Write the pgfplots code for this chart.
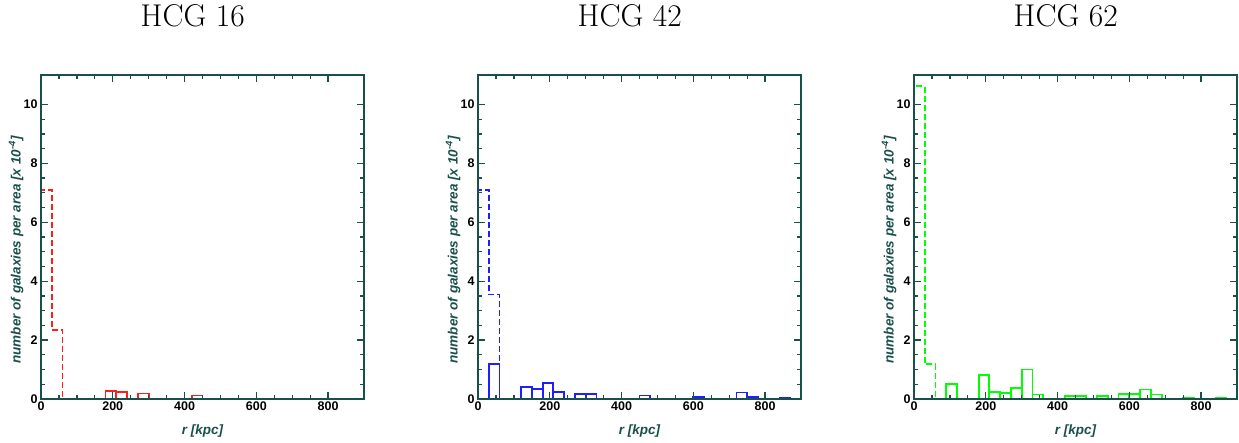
\documentclass[border=0pt]{standalone}
\usepackage{fontspec}
\setsansfont{Liberation Sans}
\usepackage{pgfplots}
\pgfplotsset{compat=1.18}
\definecolor{framec}{RGB}{25,80,75}
\definecolor{hgreen}{RGB}{0,255,0}
\definecolor{hred}{RGB}{255,30,30}
\definecolor{hblue}{RGB}{30,30,255}
\pgfplotsset{hcg/.style={
  scale only axis, width=323pt, height=324pt,
  xmin=0, xmax=900, ymin=0, ymax=11,
  xtick={0,200,400,600,800}, ytick={0,2,4,6,8,10},
  minor x tick num=3, minor y tick num=3,
  tick align=inside, major tick length=7pt, minor tick length=4pt,
  axis on top,
  axis line style={draw=framec, line width=1.6pt},
  every tick/.append style={draw=framec, line width=1.3pt},
  /pgf/number format/assume math mode=true,
  ticklabel style={font=\fontsize{12.5}{14}\selectfont\sffamily\bfseries, text=black},
  xticklabel style={yshift=1pt},
  xlabel={r [kpc]}, ylabel={number of galaxies per area [x 10\textsuperscript{-4}]},
  label style={font=\fontsize{13.5}{15}\selectfont\sffamily\bfseries\itshape, text=framec},
  xlabel style={at={(axis description cs:0.5,0)}, anchor=center, yshift=-32pt},
  ylabel style={at={(axis description cs:-0.077,0.46)}, anchor=center},
  title style={font=\fontsize{31.5}{36}\selectfont\rmfamily, at={(axis description cs:0.47,1)}, anchor=base, yshift=42pt},
  hist/.style={line width=1.8pt},
}}
\begin{document}
\begin{tikzpicture}
\begin{axis}[hcg, title={HCG 16}, at={(0pt,0pt)}]
\addplot[const plot mark left, draw=hred, hist, dash pattern=on 6pt off 3pt] coordinates {(0,0)(0,7.1)(30,2.35)(60,0)};
\addplot[ybar interval, draw=hred, fill=none, hist] coordinates {(180,0.27)(210,0.23)(240,0)(270,0.19)(300,0)(330,0)(360,0)(390,0)(420,0.12)(450,0)};
\end{axis}
\begin{axis}[hcg, title={HCG 42}, at={(437pt,0pt)}]
\addplot[const plot mark left, draw=hblue, hist, dash pattern=on 6pt off 3pt] coordinates {(0,0)(0,7.1)(30,3.55)(60,0)};
\addplot[ybar interval, draw=hblue, fill=none, hist] coordinates {(30,1.2)(60,0)(90,0)(120,0.4)(150,0.33)(180,0.55)(210,0.24)(240,0)(270,0.18)(300,0.17)(330,0)(360,0)(390,0)(420,0)(450,0.12)(480,0)(510,0)(540,0)(570,0)(600,0.08)(630,0)(660,0)(690,0)(720,0.22)(750,0.08)(780,0)(810,0)(840,0.05)(870,0)};
\end{axis}
\begin{axis}[hcg, title={HCG 62}, at={(873pt,0pt)}]
\addplot[const plot mark left, draw=hgreen, hist, dash pattern=on 6pt off 3pt] coordinates {(0,0)(0,10.62)(30,1.18)(60,0)};
\addplot[ybar interval, draw=hgreen, fill=none, hist] coordinates {(90,0.5)(120,0)(150,0)(180,0.81)(210,0.23)(240,0.2)(270,0.37)(300,1.0)(330,0.15)(360,0)(390,0)(420,0.1)(450,0.1)(480,0)(510,0.1)(540,0)(570,0.17)(600,0.17)(630,0.32)(660,0.15)(690,0)(720,0)(750,0.05)(780,0)(810,0)(840,0.05)(870,0)};
\end{axis}
\pgfresetboundingbox
\useasboundingbox (-41pt,-43pt) rectangle (1198pt,399pt);
\end{tikzpicture}
\end{document}
